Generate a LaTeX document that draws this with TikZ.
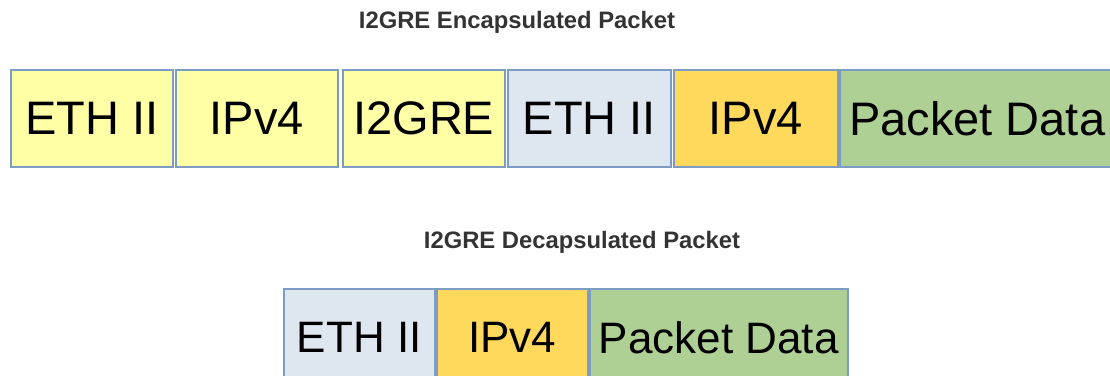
\documentclass[tikz,border=0pt]{standalone}
\usepackage{fontspec}
\setmainfont{Liberation Sans}
\definecolor{lyel}{HTML}{FFFFA6}
\definecolor{lblu}{HTML}{DEE6EF}
\definecolor{gold}{HTML}{FFD95C}
\definecolor{lgrn}{HTML}{AFD095}
\definecolor{bord}{HTML}{7C9CC4}
\definecolor{ttl}{HTML}{333333}
\tikzset{
  fld/.style={draw=bord, line width=1.6pt, inner sep=0pt, anchor=north west},
  bigtxt/.style={font=\fontsize{47}{47}\selectfont},
  smtxt/.style={font=\fontsize{44}{44}\selectfont},
  ttlnode/.style={font=\bfseries\fontsize{23.8}{24}\selectfont, text=ttl, inner sep=0pt},
}
\begin{document}
\begin{tikzpicture}[x=1pt,y=-1pt]
\useasboundingbox (0,0) rectangle (1110,375);
\clip (0,0) rectangle (1110,375);
\fill[white] (0,0) rectangle (1110,375);
\node[ttlnode] (t1) at (517,22.5) {I2GRE Encapsulated Packet};
\node[ttlnode] (t2) at (582,242) {I2GRE Decapsulated Packet};
% top row
\node[fld, fill=lyel, minimum width=162pt, minimum height=97pt] (a1) at (10,69) {};
\node[fld, fill=lyel, minimum width=162pt, minimum height=97pt] (a2) at (175,69) {};
\node[fld, fill=lyel, minimum width=162pt, minimum height=97pt] (a3) at (342,69) {};
\node[fld, fill=lblu, minimum width=163pt, minimum height=97pt] (a4) at (507,69) {};
\node[fld, fill=gold, minimum width=164pt, minimum height=97pt] (a5) at (673,69) {};
\node[fld, fill=lgrn, minimum width=290pt, minimum height=97pt] (a6) at (839,69) {};
\node[bigtxt] at (a1.center) {ETH II};
\node[bigtxt] at (a2.center) {IPv4};
\node[bigtxt] at (a3.center) {I2GRE};
\node[bigtxt] at (a4.center) {ETH II};
\node[bigtxt] at (a5.center) {IPv4};
\node[bigtxt, anchor=west, inner sep=0pt] at ([xshift=10pt]a6.west) {Packet Data};
% bottom row
\node[fld, fill=lblu, minimum width=151pt, minimum height=97pt] (b1) at (283,288) {};
\node[fld, fill=gold, minimum width=151pt, minimum height=97pt] (b2) at (436,288) {};
\node[fld, fill=lgrn, minimum width=258pt, minimum height=97pt] (b3) at (589,288) {};
\node[smtxt] at (b1.center) {ETH II};
\node[smtxt] at (b2.center) {IPv4};
\node[smtxt] at (b3.center) {Packet Data};
\end{tikzpicture}
\end{document}
